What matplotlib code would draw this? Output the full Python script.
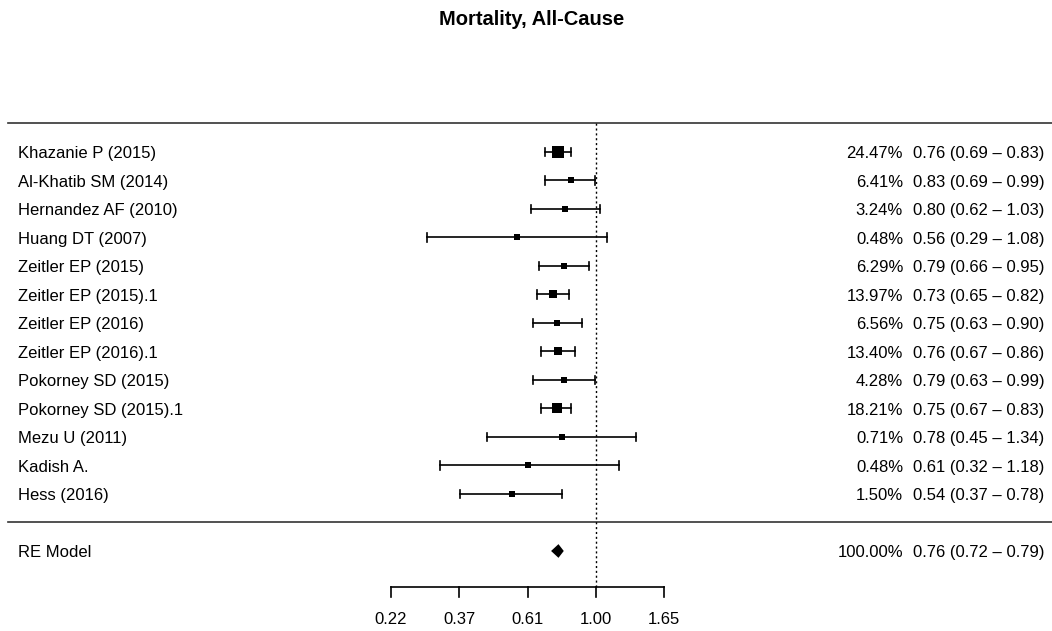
import numpy as np
import matplotlib.pyplot as plt

plt.rcParams['font.family'] = ['Liberation Sans', 'DejaVu Sans']

studies = ['Khazanie P (2015)', 'Al-Khatib SM (2014)', 'Hernandez AF (2010)', 'Huang DT (2007)',
           'Zeitler EP (2015)', 'Zeitler EP (2015).1', 'Zeitler EP (2016)', 'Zeitler EP (2016).1',
           'Pokorney SD (2015)', 'Pokorney SD (2015).1', 'Mezu U (2011)', 'Kadish A.', 'Hess (2016)']
est = [0.76, 0.83, 0.80, 0.56, 0.79, 0.73, 0.75, 0.76, 0.79, 0.75, 0.78, 0.61, 0.54]
lo = [0.69, 0.69, 0.62, 0.29, 0.66, 0.65, 0.63, 0.67, 0.63, 0.67, 0.45, 0.32, 0.37]
hi = [0.83, 0.99, 1.03, 1.08, 0.95, 0.82, 0.90, 0.86, 0.99, 0.83, 1.34, 1.18, 0.78]
weights = [24.47, 6.41, 3.24, 0.48, 6.29, 13.97, 6.56, 13.40, 4.28, 18.21, 0.71, 0.48, 1.50]

re_est, re_lo, re_hi = 0.76, 0.72, 0.79
tick_vals = [-1.5, -1.0, -0.5, 0.0, 0.5]

k = len(studies)
rows = np.arange(k, 0, -1)

fig = plt.figure(figsize=(10.52, 6.31), dpi=100)
ax = fig.add_axes([0, 0, 1, 1])
ax.set_xlim(-4.36, 3.336)
ax.set_ylim(-3.807, 18.33)
ax.axis('off')

# point sizes like metafor: scaled weights between 0.5 and 1.5
w = np.array(weights)
psize = (w - w.min()) / (w.max() - w.min()) + 0.5

ax.plot([-4.30, 3.336], [k + 1, k + 1], color='#333333', lw=1.2)
ax.plot([-4.30, 3.336], [0, 0], color='#333333', lw=1.2)
ax.plot([0, 0], [-2.26, k + 1], color='black', lw=1.0, ls=(0, (1.5, 2)))

fs = 12
toff = -0.06
cap = 0.15
for i in range(k):
    y = rows[i]
    l, h = np.log(lo[i]), np.log(hi[i])
    ax.plot([l, h], [y, y], color='black', lw=1.2)
    ax.plot([l, l], [y - cap, y + cap], color='black', lw=1.2)
    ax.plot([h, h], [y - cap, y + cap], color='black', lw=1.2)
    ax.plot(np.log(est[i]), y, marker='s', color='black', ms=4.5 * psize[i] + 1.5, mew=0)
    ax.text(-4.23, y + toff, studies[i], fontsize=fs, va='center', ha='left')
    ax.text(2.246, y + toff, '%.2f%%' % weights[i], fontsize=fs, va='center', ha='right')
    ax.text(2.32, y + toff, '%.2f (%.2f \u2013 %.2f)' % (est[i], lo[i], hi[i]), fontsize=fs, va='center', ha='left')

# summary diamond
dy = -1
ax.fill([np.log(re_lo), np.log(re_est), np.log(re_hi), np.log(re_est)],
        [dy, dy + 0.24, dy, dy - 0.24], color='black', lw=0)
ax.text(-4.23, dy + toff, 'RE Model', fontsize=fs, va='center', ha='left')
ax.text(2.246, dy + toff, '100.00%', fontsize=fs, va='center', ha='right')
ax.text(2.32, dy + toff, '%.2f (%.2f \u2013 %.2f)' % (re_est, re_lo, re_hi), fontsize=fs, va='center', ha='left')

# x axis
ya = -2.26
ax.plot([tick_vals[0], tick_vals[-1]], [ya, ya], color='black', lw=1.2)
for t in tick_vals:
    ax.plot([t, t], [ya, ya - 0.35], color='black', lw=1.2)
    ax.text(t, -3.42, '%.2f' % np.exp(t), fontsize=fs, va='center', ha='center')

ax.text(0.5057, 0.969, 'Mortality, All-Cause', transform=ax.transAxes, fontsize=14.5,
        fontweight='bold', ha='center', va='center')

fig.savefig('out.png', dpi=100)
